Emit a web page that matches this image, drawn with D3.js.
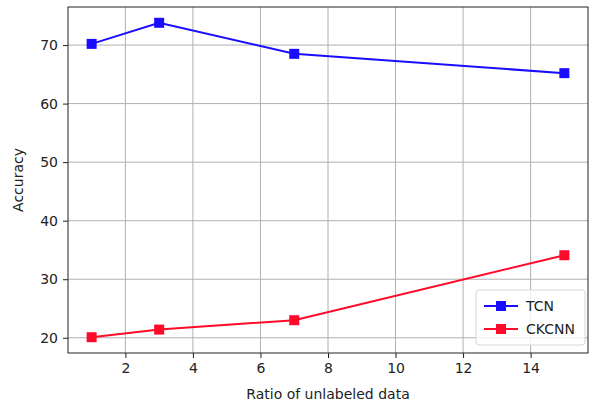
<!DOCTYPE html>
<html>
<head>
<script src="https://d3js.org/d3.v7.min.js"></script>
<style>
  body { margin: 0; background: #fff; }
  text { font-family: "DejaVu Sans", sans-serif; }
</style>
</head>
<body>
<script>
// data
const ratios = [1, 3, 7, 15];
const tcn = [70.2, 73.8, 68.5, 65.2];
const ckcnn = [20.1, 21.4, 23.0, 34.1];
const xTicks = [2, 4, 6, 8, 10, 12, 14];
const yTicks = [20, 30, 40, 50, 60, 70];
const series = [
  { name: "TCN", values: tcn, color: "#1a0dff" },
  { name: "CKCNN", values: ckcnn, color: "#ff0a2a" }
];

const W = 590, H = 405;
const m = { left: 68, right: 2, top: 7, bottom: 52 };

const svg = d3.select("body").append("svg")
  .attr("width", W).attr("height", H);

const x = d3.scaleLinear().domain([0.3, 15.7]).range([m.left, W - m.right]);
const y = d3.scaleLinear().domain([17.4, 76.5]).range([H - m.bottom, m.top]);

// grid
svg.append("g").selectAll("line").data(xTicks).join("line")
  .attr("x1", d => x(d)).attr("x2", d => x(d))
  .attr("y1", m.top).attr("y2", H - m.bottom)
  .attr("stroke", "#b0b0b0").attr("stroke-width", 1);
svg.append("g").selectAll("line").data(yTicks).join("line")
  .attr("x1", m.left).attr("x2", W - m.right)
  .attr("y1", d => y(d)).attr("y2", d => y(d))
  .attr("stroke", "#b0b0b0").attr("stroke-width", 1);

// axes
const xAxis = svg.append("g")
  .attr("transform", `translate(0,${H - m.bottom})`)
  .call(d3.axisBottom(x).tickValues(xTicks).tickSize(5).tickPadding(5).tickSizeOuter(0));
const yAxis = svg.append("g")
  .attr("transform", `translate(${m.left},0)`)
  .call(d3.axisLeft(y).tickValues(yTicks).tickSize(5).tickPadding(5).tickSizeOuter(0));
[xAxis, yAxis].forEach(a => {
  a.select(".domain").remove();
  a.selectAll("text").attr("font-size", 14).attr("fill", "#222")
    .attr("font-family", "DejaVu Sans, sans-serif");
  a.selectAll("line").attr("stroke", "#222");
});

// frame
svg.append("rect")
  .attr("x", m.left).attr("y", m.top)
  .attr("width", W - m.right - m.left).attr("height", H - m.bottom - m.top)
  .attr("fill", "none").attr("stroke", "#222").attr("stroke-width", 1);

// lines and markers
const line = d3.line().x((d, i) => x(ratios[i])).y(d => y(d));
series.forEach(s => {
  svg.append("path").datum(s.values)
    .attr("d", line).attr("fill", "none")
    .attr("stroke", s.color).attr("stroke-width", 2);
  svg.append("g").selectAll("rect").data(s.values).join("rect")
    .attr("x", (d, i) => x(ratios[i]) - 5)
    .attr("y", d => y(d) - 5)
    .attr("width", 10).attr("height", 10)
    .attr("fill", s.color);
});

// labels
svg.append("text")
  .attr("x", x(8)).attr("y", 399)
  .attr("text-anchor", "middle").attr("font-size", 14).attr("fill", "#222")
  .text("Ratio of unlabeled data");
svg.append("text")
  .attr("transform", `translate(23,${(m.top + H - m.bottom) / 2}) rotate(-90)`)
  .attr("text-anchor", "middle").attr("font-size", 14).attr("fill", "#222")
  .text("Accuracy");

// legend
const lg = svg.append("g").attr("transform", "translate(476,290)");
lg.append("rect").attr("width", 109).attr("height", 55).attr("rx", 3)
  .attr("fill", "#fff").attr("fill-opacity", 0.8).attr("stroke", "#d6d6d6");
series.forEach((s, i) => {
  const cy = 16 + i * 23;
  lg.append("line").attr("x1", 8).attr("x2", 42).attr("y1", cy).attr("y2", cy)
    .attr("stroke", s.color).attr("stroke-width", 2);
  lg.append("rect").attr("x", 20).attr("y", cy - 5).attr("width", 10).attr("height", 10)
    .attr("fill", s.color);
  lg.append("text").attr("x", 50).attr("y", cy + 5)
    .attr("font-size", 14).attr("fill", "#222").text(s.name);
});
</script>
</body>
</html>
